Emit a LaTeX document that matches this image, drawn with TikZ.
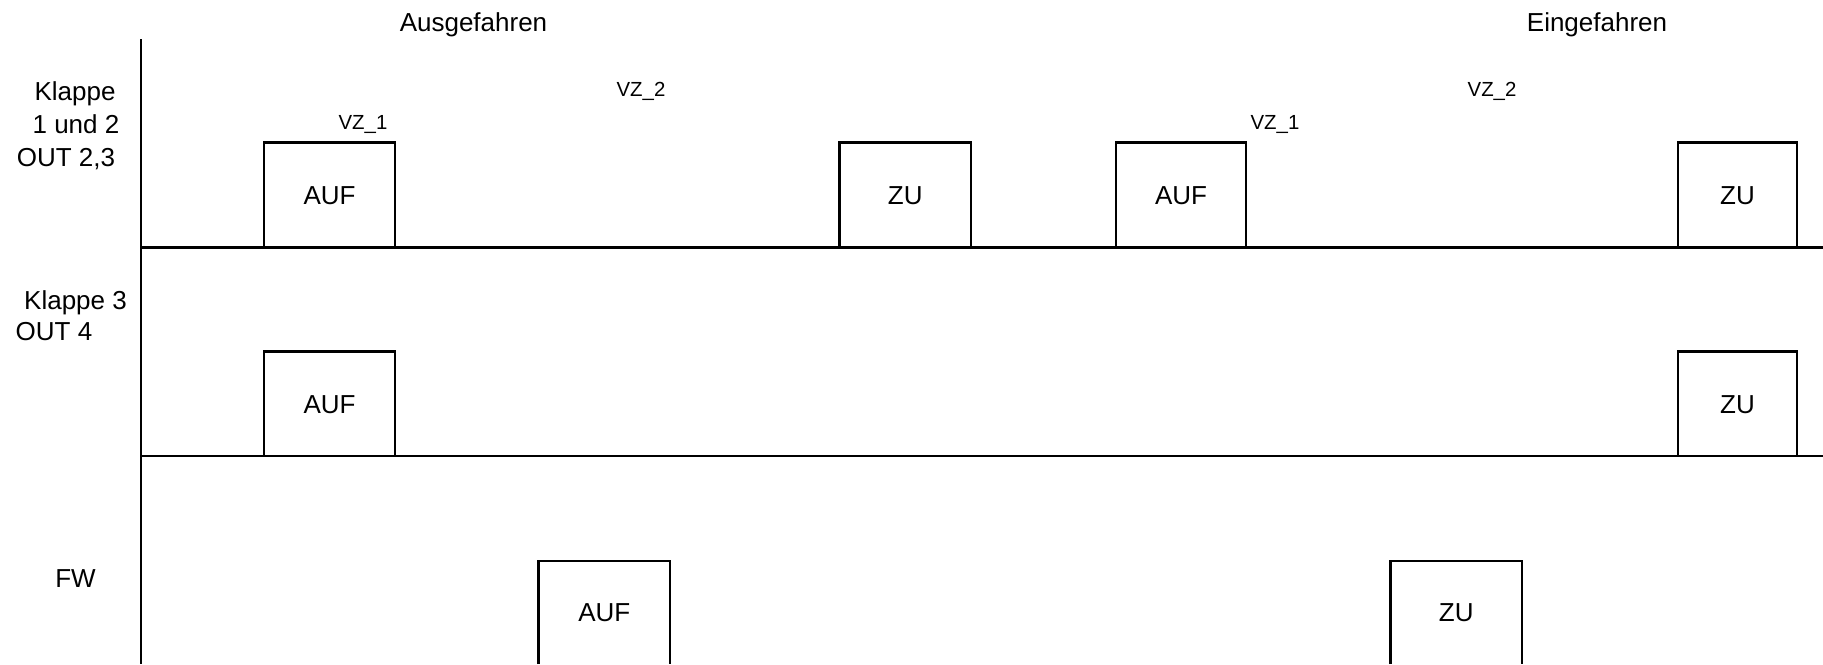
\documentclass[tikz,border=0pt]{standalone}
\usepackage{fontspec}
\setmainfont{Liberation Sans}

% one open-bottom pulse with its label: name, x-left, x-right, top, bottom, label baseline, text
\newcommand{\pulsebox}[7]{%
  \coordinate (#1-bl) at (#2,#5);
  \coordinate (#1-tl) at (#2,#4);
  \coordinate (#1-tr) at (#3,#4);
  \coordinate (#1-br) at (#3,#5);
  \draw[pulse] (#1-bl) -- (#1-tl) -- (#1-tr) -- (#1-br);
  \node[lbl] (#1) at ({(#2+#3)/2},#6) {#7};
}

\begin{document}
\begin{tikzpicture}[x=0.5pt,y=-0.5pt,
  lbl/.style={font=\fontsize{13}{15}\selectfont, inner sep=0pt, anchor=base},
  small/.style={font=\fontsize{10.2}{12}\selectfont, inner sep=0pt, anchor=base},
  pulse/.style={line width=1.05pt, line join=miter},
  track/.style={line width=1.05pt}]
\useasboundingbox (0,0) rectangle (1823,664);

% time axis and lane separators
\coordinate (axtop) at (141,39);
\coordinate (axbot) at (141,664);
\coordinate (sepAa) at (141,247.5);
\coordinate (sepAb) at (1823,247.5);
\coordinate (sepBa) at (141,456);
\coordinate (sepBb) at (1823,456);
\draw[track] (axtop) -- (axbot);
\draw[track] (sepAa) -- (sepAb);
\draw[track] (sepBa) -- (sepBb);

% phase headings
\node[lbl] (aus) at (473.5,31.5) {Ausgefahren};
\node[lbl] (ein) at (1597,31.5) {Eingefahren};

% lane labels
\node[lbl] (k12a) at (75,100) {Klappe};
\node[lbl] (k12b) at (76,133) {1 und 2};
\node[lbl] (k12c) at (66,166) {OUT 2,3};
\node[lbl] (k3a) at (75.5,309) {Klappe 3};
\node[lbl] (k3b) at (54,340) {OUT 4};
\node[lbl] (fw) at (75.5,587) {FW};

% delay markers
\node[small] (vz1a) at (363,129) {VZ\_1};
\node[small] (vz2a) at (641,96) {VZ\_2};
\node[small] (vz1b) at (1275,129) {VZ\_1};
\node[small] (vz2b) at (1492,96) {VZ\_2};

% lane 1: Klappe 1 und 2
\pulsebox{pa1}{264}{395}{142.5}{247.5}{204}{AUF}
\pulsebox{pa2}{839.5}{971}{142.5}{247.5}{204}{ZU}
\pulsebox{pa3}{1116}{1246}{142.5}{247.5}{204}{AUF}
\pulsebox{pa4}{1678}{1797}{142.5}{247.5}{204}{ZU}

% lane 2: Klappe 3
\pulsebox{pb1}{264}{395}{351.5}{456}{413}{AUF}
\pulsebox{pb2}{1678}{1797}{351.5}{456}{413}{ZU}

% lane 3: FW
\pulsebox{pc1}{538.5}{670}{561}{664}{621}{AUF}
\pulsebox{pc2}{1390.5}{1522}{561}{664}{621}{ZU}
\end{tikzpicture}
\end{document}
